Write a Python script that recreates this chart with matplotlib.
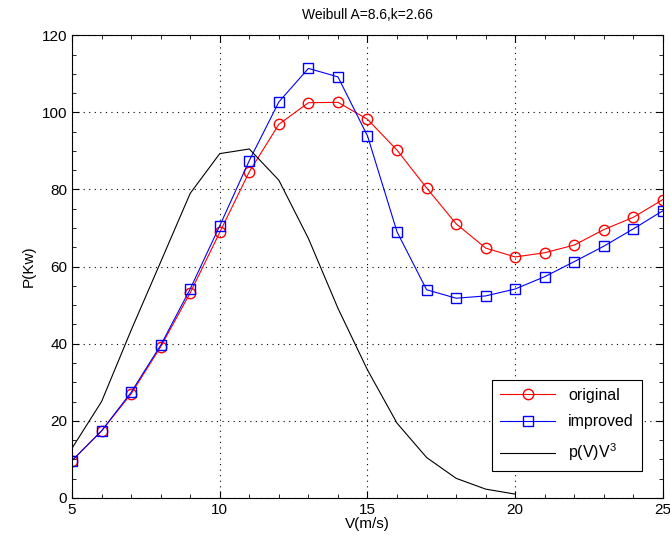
import matplotlib.pyplot as plt
import numpy as np
from matplotlib.ticker import MultipleLocator

plt.rcParams['font.family'] = ['Liberation Sans', 'DejaVu Sans']
plt.rcParams['mathtext.fontset'] = 'custom'
plt.rcParams['mathtext.rm'] = 'Liberation Sans'

v = np.arange(5, 26)
original = [9.7, 17.4, 27.0, 39.2, 53.2, 68.9, 84.6, 96.9, 102.5, 102.6, 98.2,
            90.2, 80.4, 71.1, 64.8, 62.5, 63.6, 65.6, 69.6, 72.8, 77.4]
improved = [9.7, 17.4, 27.4, 39.6, 54.2, 70.6, 87.5, 102.7, 111.4, 109.2, 93.9,
            69.0, 54.0, 51.8, 52.4, 54.2, 57.4, 61.3, 65.3, 69.8, 74.5]
v_p = np.arange(5, 21)
pv3 = [12.9, 25.0, 43.5, 61.2, 79.0, 89.3, 90.5, 82.4, 67.3, 49.2, 33.2,
       19.4, 10.5, 5.1, 2.3, 1.0]

fig = plt.figure(figsize=(6.7, 5.47), dpi=100)
ax = fig.add_axes([0.1075, 0.0896, 0.882, 0.846])

ax.plot(v, original, color='red', marker='o', markersize=7.5, markerfacecolor='none',
        linewidth=0.8, label='original')
ax.plot(v, improved, color='blue', marker='s', markersize=6.5, markerfacecolor='none',
        linewidth=0.8, label='improved')
ax.plot(v_p, pv3, color='black', linewidth=0.8, label=r'p(V)V$\mathregular{^3}$')

ax.set_xlim(5, 25)
ax.set_ylim(0, 120)
ax.xaxis.set_major_locator(MultipleLocator(5))
ax.xaxis.set_minor_locator(MultipleLocator(1))
ax.yaxis.set_major_locator(MultipleLocator(20))
ax.yaxis.set_minor_locator(MultipleLocator(5))
ax.tick_params(which='both', direction='in', top=True, right=True, labelsize=11)
ax.tick_params(which='major', length=5)
ax.tick_params(which='minor', length=3)
ax.grid(True, which='major', linestyle=(0, (1, 4)), color='black', linewidth=0.8)

ax.set_xlabel('V(m/s)', fontsize=11, labelpad=0)
ax.set_ylabel('P(Kw)', fontsize=11)
ax.set_title('Weibull A=8.6,k=2.66', fontsize=10, pad=12)

leg = ax.legend(loc='lower right', bbox_to_anchor=(0.9645, 0.058), borderaxespad=0,
                fontsize=11.5, fancybox=False, framealpha=1, edgecolor='black',
                borderpad=0.5, handlelength=3.5, labelspacing=0.75)
leg.get_frame().set_linewidth(0.8)

fig.savefig('out.png', dpi=100)
